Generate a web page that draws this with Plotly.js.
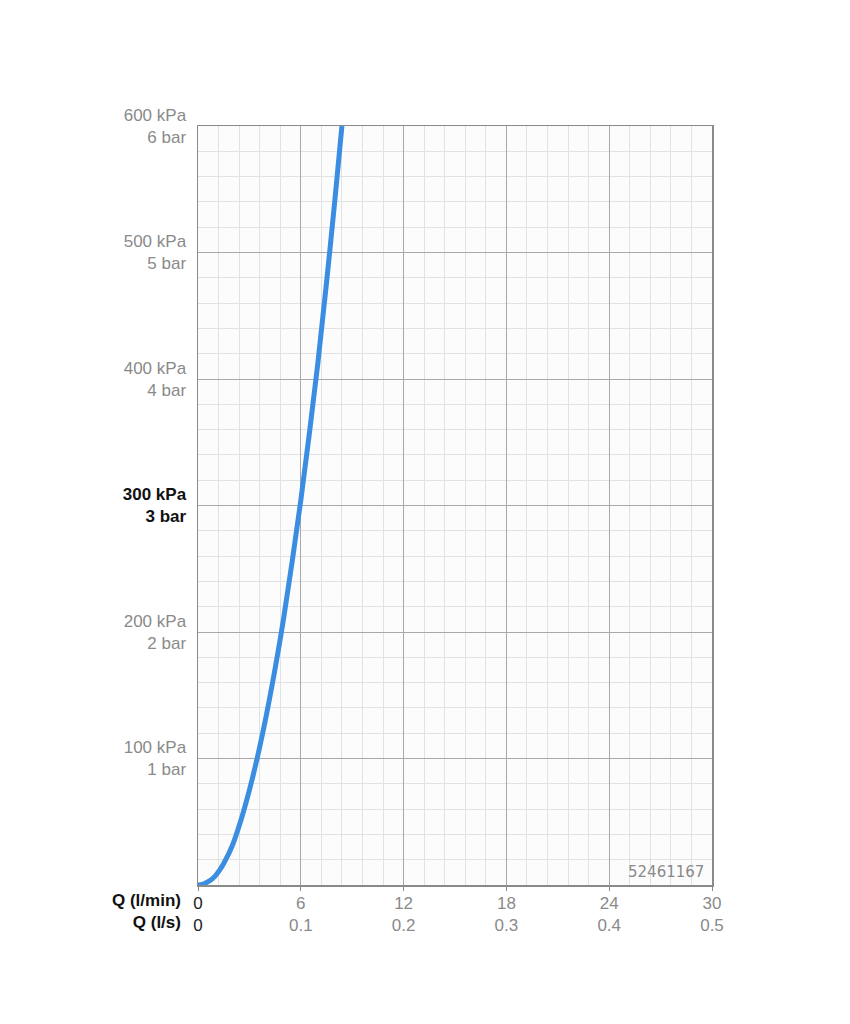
<!DOCTYPE html>
<html><head><meta charset="utf-8">
<script src="https://cdn.plot.ly/plotly-3.0.1.min.js"></script>
<style>html,body{margin:0;padding:0;background:#fff}#c{width:850px;height:1024px}</style>
</head><body><div id="c"></div>
<script>
// Flow rate (l/min) and pressure loss (kPa)
const flowLmin = [0, 0.25, 0.5, 0.75, 1, 1.25, 1.5, 2, 2.5, 3, 3.5, 4, 4.5, 5, 5.5, 6, 6.5, 7, 7.5, 8, 8.4];
const pressureKPa = [0, 0.5, 2, 4, 7, 11.5, 17, 31, 51, 75, 103, 135, 171, 211, 256, 304, 357, 413, 476, 543, 600];

const yTickVals = [100, 200, 300, 400, 500, 600];
const yTickText = [
  '100 kPa<br>1 bar', '200 kPa<br>2 bar',
  '<b><span style="color:#111">300 kPa</span></b><br><b><span style="color:#111">3 bar</span></b>',
  '400 kPa<br>4 bar', '500 kPa<br>5 bar', '600 kPa<br>6 bar'
];
const xTickVals = [0, 6, 12, 18, 24, 30];
const xTickLmin = ['0', '6', '12', '18', '24', '30'];
const xTickLs = ['0', '0.1', '0.2', '0.3', '0.4', '0.5'];
const xTickText = xTickVals.map((v, i) => i === 0
  ? '<span style="color:#222">' + xTickLmin[i] + '</span><br><span style="color:#222">' + xTickLs[i] + '</span>'
  : xTickLmin[i] + '<br>' + xTickLs[i]);
const modelNumber = '52461167';

const trace = {
  x: flowLmin, y: pressureKPa, type: 'scatter', mode: 'lines',
  line: {color: '#3a8de0', width: 5, shape: 'spline', smoothing: 1},
  hoverinfo: 'skip', cliponaxis: true
};

const layout = {
  width: 850, height: 1024,
  margin: {l: 198, r: 138, t: 126, b: 139},
  paper_bgcolor: '#ffffff', plot_bgcolor: '#fcfcfc',
  showlegend: false,
  font: {family: 'Liberation Sans, Arial, sans-serif', size: 17, color: '#8a8a8a'},
  xaxis: {
    range: [0, 30], tickmode: 'array', tickvals: xTickVals, ticktext: xTickText,
    showgrid: true, gridcolor: '#a8a8a8', gridwidth: 1,
    minor: {dtick: 1.2, showgrid: true, gridcolor: '#e2e2e2', gridwidth: 1},
    showline: true, linecolor: '#8a8a8a', linewidth: 1.5, mirror: true,
    ticks: 'outside', ticklen: 4, tickcolor: '#8a8a8a', ticklabelstandoff: -2,
    zeroline: false, fixedrange: true,
    tickfont: {size: 17, color: '#8a8a8a'}
  },
  yaxis: {
    range: [0, 600], tickmode: 'array', tickvals: yTickVals, ticktext: yTickText,
    showgrid: true, gridcolor: '#a8a8a8', gridwidth: 1,
    minor: {dtick: 20, showgrid: true, gridcolor: '#e2e2e2', gridwidth: 1},
    showline: true, linecolor: '#8a8a8a', linewidth: 1.5, mirror: true,
    ticks: '', ticklabelstandoff: 7,
    zeroline: false, fixedrange: true,
    tickfont: {size: 17, color: '#8a8a8a'}
  },
  annotations: [
    {xref: 'paper', yref: 'paper', x: 1, y: 0, xanchor: 'right', yanchor: 'bottom',
     xshift: -6, yshift: 2, text: modelNumber, showarrow: false,
     font: {family: 'DejaVu Sans, sans-serif', size: 15, color: '#8a8a8a'}},
    {xref: 'paper', yref: 'paper', x: 0, y: 0, xanchor: 'right', yanchor: 'top',
     xshift: -15, yshift: -4, text: '<b>Q (l/min)</b><br><b>Q (l/s)</b>', align: 'right', showarrow: false,
     font: {size: 17, color: '#111'}}
  ]
};

Plotly.newPlot('c', [trace], layout, {displayModeBar: false, staticPlot: true});
</script>
</body></html>
